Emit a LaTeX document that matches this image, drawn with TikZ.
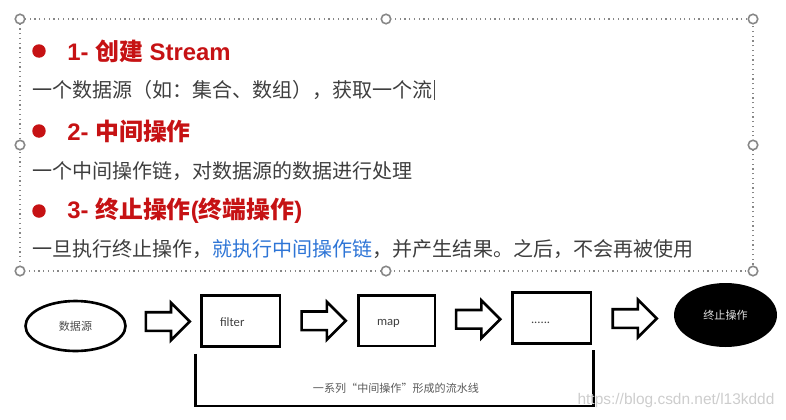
\documentclass[tikz,border=0pt]{standalone}
\usepackage{fontspec}
\setmainfont{Liberation Sans}
\newfontfamily\cjk{Noto Sans CJK SC}
\newfontfamily\smallsans{Carlito}
\usetikzlibrary{shapes.geometric,shapes.arrows,calc}

\definecolor{titlered}{RGB}{198,18,20}
\definecolor{bodygray}{RGB}{62,62,62}
\definecolor{linkblue}{RGB}{46,117,214}
\definecolor{handlegray}{RGB}{135,135,135}
\definecolor{markgray}{RGB}{205,205,205}

\tikzset{
  handle/.style={circle,draw=handlegray,fill=white,line width=0.9pt,minimum size=0.19cm,inner sep=0pt},
  bulletdot/.style={circle,fill=titlered,minimum size=0.27cm,inner sep=0pt},
  headline/.style={anchor=west,inner sep=0pt,text=titlered,font=\fontsize{13.6}{16}\selectfont\bfseries},
  bodyline/.style={anchor=west,inner sep=0pt,text=bodygray,font=\cjk\fontsize{11.4}{14}\selectfont},
  stagebox/.style={draw,line width=1.7pt,minimum height=1.02cm,inner xsep=0.38cm,
    text width=0.82cm,align=left,text height=1.3ex,text depth=0.2ex,
    font=\smallsans\fontsize{7.2}{8}\selectfont,text=black!75},
  fatarrow/.style={single arrow,draw,line width=1.5pt,inner xsep=0pt,inner ysep=0.16cm,
    minimum height=0.88cm,minimum width=0.7cm,single arrow head extend=0.19cm},
  pipe/.style={line width=1.3pt},
  smallcjk/.style={font=\cjk\fontsize{6.3}{7}\selectfont}
}

\begin{document}
\begin{tikzpicture}[x=0.02cm,y=-0.02cm]
  \useasboundingbox (0,0) rectangle (786,419);
  % selection frame with its handles
  \draw[dotted,handlegray,line width=0.7pt] (20,19) rectangle (753,271);
  \foreach \hx/\hy [count=\i] in {20/19,386/19,753/19,20/145,753/145,20/271,386/271,753/271}
    \node[handle] (h\i) at (\hx,\hy) {};
  % the three steps
  \node[bulletdot] (b1) at (39,51) {};
  \node[headline] (t1) at (67,51) {1- {\cjk 创建} Stream};
  \node[bodyline] (d1) at (32,90) {一个数据源（如：集合、数组），获取一个流};
  \draw[line width=0.5pt,black!70] ($(d1.east)+(1,-10)$) -- ($(d1.east)+(1,10)$);
  \node[bulletdot] (b2) at (39,131) {};
  \node[headline] (t2) at (67,131) {2- {\cjk 中间操作}};
  \node[bodyline] (d2) at (32,171) {一个中间操作链，对数据源的数据进行处理};
  \node[bulletdot] (b3) at (39,211) {};
  \node[headline] (t3) at (67,211) {3- {\cjk 终止操作}({\cjk 终端操作})};
  \node[bodyline] (d3) at (32,249) {一旦执行终止操作，\textcolor{linkblue}{就执行中间操作链}，并产生结果。之后，不会再被使用};
  % pipeline
  \node[ellipse,draw,line width=1.5pt,minimum width=2cm,minimum height=1cm,
    smallcjk,text=black!70] (src) at (75.5,326) {数据源};
  \node[stagebox] (filter) at (240.5,321) {filter};
  \node[stagebox,minimum width=1.54cm,text width=0.78cm] (map) at (396.5,320.5) {map};
  \node[stagebox] (more) at (551.5,318) {......};
  \node[ellipse,fill=black,minimum width=2.06cm,minimum height=1.28cm,
    smallcjk,text=black!12] (term) at (725.5,315) {终止操作};
  \node[fatarrow] (a1) at ($(src.east)!0.5!(filter.west)+(0,-2)$) {};
  \node[fatarrow] (a2) at ($(filter.east)!0.5!(map.west)$) {};
  \node[fatarrow] (a3) at ($(map.east)!0.5!(more.west)$) {};
  \node[fatarrow] (a4) at ($(more.east)!0.5!(term.west)+(-3,2)$) {};
  % bracket under the intermediate stages
  \draw[pipe] ($(filter.south west)+(-4,6)$) -- ++(0,52) -| ($(more.south east)+(1,5)$);
  \node[smallcjk,text=black!65] (pipelabel) at (396,388) {一系列“中间操作”形成的流水线};
  \node[text=markgray,font=\fontsize{8.8}{10}\selectfont] (mark) at (676,400) {https://blog.csdn.net/l13kddd};
\end{tikzpicture}
\end{document}
